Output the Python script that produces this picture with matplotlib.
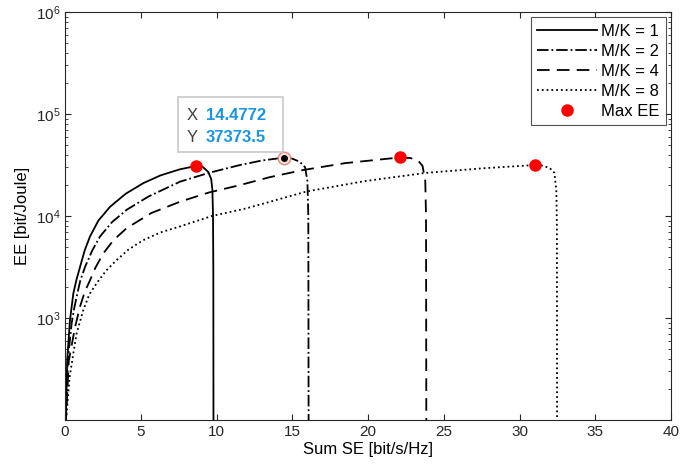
import matplotlib.pyplot as plt
from matplotlib.patches import Rectangle

plt.rcParams['font.family'] = ['Liberation Sans', 'DejaVu Sans']

# values
se1 = [0.05, 0.15, 0.33, 0.55, 0.75, 0.99, 1.3, 1.65, 2.2, 2.97, 4.0, 5.17, 6.3, 7.59, 8.63,
       9.1, 9.46, 9.65, 9.73, 9.77, 9.79, 9.8]
ee1 = [90, 400, 955, 1740, 2350, 3160, 4600, 6300, 9000, 12300, 16500, 21000, 25000, 28700, 30900,
       30200, 27000, 23000, 18000, 10000, 3000, 80]

se2 = [0.05, 0.18, 0.44, 0.6, 0.77, 1.0, 1.32, 1.8, 2.31, 3.1, 4.07, 5.5, 7.59, 9.5, 11.55, 13.0,
       14.4772, 15.0, 15.5, 15.85, 16.0, 16.06, 16.08]
ee2 = [90, 380, 890, 1230, 1620, 2300, 3160, 4600, 6300, 8700, 11500, 15500, 21700, 26500, 31600, 35000,
       37373.5, 36500, 34000, 30000, 22000, 10000, 80]

se4 = [0.05, 0.25, 0.66, 0.99, 1.3, 1.65, 2.0, 2.53, 3.2, 4.07, 5.7, 7.59, 9.5, 11.5, 13.5, 15.7,
       18.5, 22.1, 22.8, 23.3, 23.6, 23.78, 23.83, 23.85]
ee4 = [90, 380, 810, 1290, 1800, 2340, 3100, 4300, 5800, 7600, 10700, 13800, 17000, 20000, 24000, 28200,
       33000, 37500, 37000, 35000, 31000, 22000, 10000, 80]

se8 = [0.05, 0.3, 0.55, 0.77, 1.21, 1.6, 2.09, 2.7, 3.41, 4.2, 5.17, 6.3, 7.59, 9.7, 11.99, 15.95,
       19.8, 23.76, 27.5, 31.0, 31.5, 32.0, 32.3, 32.43, 32.47, 32.48]
ee8 = [90, 260, 450, 710, 1200, 1700, 2190, 2900, 3700, 4700, 5800, 6900, 7900, 10000, 11900, 17400,
       22000, 26400, 29300, 31600, 31200, 29500, 26500, 18000, 8000, 80]

max_se = [8.63, 14.4772, 22.1, 31.0]
max_ee = [30900, 37373.5, 37500, 31600]

W, H = 685, 473
fig = plt.figure(figsize=(W / 100, H / 100), dpi=100)
ax = fig.add_axes([65 / W, 1 - 420 / H, 606 / W, 408 / H])

ax.plot(se1, ee1, color='black', linestyle='-', lw=1.3, label='M/K = 1')
ax.plot(se2, ee2, color='black', linestyle='-.', lw=1.3, label='M/K = 2')
ax.plot(se4, ee4, color='black', linestyle=(0, (7, 4)), lw=1.3, label='M/K = 4')
ax.plot(se8, ee8, color='black', linestyle=':', lw=1.3, label='M/K = 8')
ax.plot(max_se, max_ee, 'o', color='red', markersize=8, linestyle='none', label='Max EE')

# data tip marker
ax.plot([14.4772], [37373.5], 'o', markersize=9, markerfacecolor='#fbe3dc',
        markeredgecolor='#f08a7a', markeredgewidth=1.0)
ax.plot([14.4772], [37373.5], 'o', markersize=4, color='black')

# data tip box (figure pixel coords)
fig.patches.append(Rectangle((178 / W, 1 - 152 / H), 105 / W, 55 / H, transform=fig.transFigure,
                             facecolor='white', edgecolor='#c8c8c8', lw=1.2, zorder=5))
fig.text(187 / W, 1 - 116 / H, 'X', color='#404040', fontsize=12, va='center', zorder=6)
fig.text(187 / W, 1 - 137 / H, 'Y', color='#404040', fontsize=12, va='center', zorder=6)
fig.text(206 / W, 1 - 116 / H, '14.4772', color='#1a95e0', fontsize=12, fontweight='bold',
         va='center', zorder=6)
fig.text(206 / W, 1 - 137 / H, '37373.5', color='#1a95e0', fontsize=12, fontweight='bold',
         va='center', zorder=6)

ax.set_yscale('log')
ax.set_xlim(0, 40)
ax.set_ylim(100, 1e6)
ax.set_xticks(range(0, 41, 5))
ax.set_yticks([1e3, 1e4, 1e5, 1e6])
ax.tick_params(which='both', direction='in', top=True, right=True, colors='#262626',
               labelsize=11)
ax.tick_params(which='major', length=4)
ax.tick_params(which='minor', length=2)
for s in ax.spines.values():
    s.set_color('#262626')

ax.set_xlabel('Sum SE [bit/s/Hz]', fontsize=12, labelpad=2)
ax.set_ylabel('EE [bit/Joule]', fontsize=12, labelpad=4)

leg = ax.legend(loc='upper right', fontsize=12, frameon=True, fancybox=False,
                edgecolor='#262626', handlelength=3.6, handletextpad=0.2,
                borderpad=0.4, labelspacing=0.3, borderaxespad=0.3)
leg.get_frame().set_linewidth(0.8)

fig.savefig('out.png', dpi=100)
